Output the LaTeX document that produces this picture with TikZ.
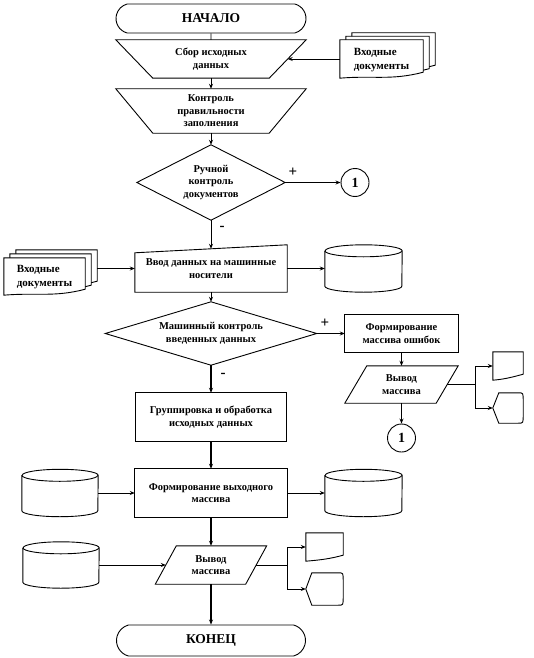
\documentclass[tikz,border=0pt]{standalone}
\usepackage{fontspec}
\setmainfont{Liberation Serif}
\usetikzlibrary{positioning,arrows.meta,shapes.misc,calc}
\newcommand\boxfont{\bfseries\fontsize{10.5}{12.5}\selectfont}
\tikzset{
  outline/.style={line width=0.9pt},
  flowarrow/.style={-{Stealth[length=5pt,width=4pt]}, line width=0.9pt},
  boldarrow/.style={flowarrow, line width=1.8pt},
  plainline/.style={line width=0.9pt},
  frame/.style={inner sep=0pt, align=center, font=\boxfont},
  doctext/.style={inner sep=0pt, align=left, font=\bfseries\fontsize{11}{14}\selectfont},
  termnode/.style={draw, rounded rectangle, rounded rectangle arc length=150, line width=0.9pt, inner sep=0pt, font=\bfseries\fontsize{13.5}{14}\selectfont},
  connnode/.style={draw, circle, line width=0.9pt, minimum size=28pt, inner sep=0pt, font=\bfseries\fontsize{14}{14}\selectfont},
  signnode/.style={inner sep=0pt, font=\bfseries\fontsize{15}{15}\selectfont}
}
% outlines drawn round empty frames
\newcommand\trapout[2]{\draw[outline] (#1.north west) -- (#1.north east) -- ([xshift=-#2]#1.south east) -- ([xshift=#2]#1.south west) -- cycle;}
\newcommand\diamondout[1]{\draw[outline] (#1.north) -- (#1.east) -- (#1.south) -- (#1.west) -- cycle;}
\newcommand\slantout[2]{\draw[outline] ([yshift=-#2]#1.north west) -- (#1.north east) -- (#1.south east) -- (#1.south west) -- cycle;}
\newcommand\paraout[2]{\draw[outline] ([xshift=#2]#1.north west) -- (#1.north east) -- ([xshift=-#2]#1.south east) -- (#1.south west) -- cycle;}
\newcommand\drumout[2]{%
  \draw[outline] ([yshift=-6]#1.north west) -- ([yshift=6]#1.south west)
    arc[start angle=180, end angle=360, x radius=#2, y radius=6]
    -- ([yshift=-6]#1.north east)
    arc[start angle=0, end angle=180, x radius=#2, y radius=6];
  \draw[outline] ([yshift=-6]#1.north west) arc[start angle=180, end angle=360, x radius=#2, y radius=6];}
\newcommand\docout[1]{\draw[outline, fill=white] (#1.north west) -- (#1.north east) -- ([yshift=6]#1.south east) to[out=195, in=5] (#1.south west) -- cycle;}
\newcommand\dispout[1]{\draw[outline] (#1.west) -- ([xshift=6]#1.north west) -- ([xshift=-5]#1.north east)
    .. controls (#1.north east) .. ([yshift=-8]#1.north east) -- ([yshift=8]#1.south east)
    .. controls (#1.south east) .. ([xshift=-5]#1.south east) -- ([xshift=6]#1.south west) -- cycle;}

\begin{document}
\begin{tikzpicture}[x=1pt, y=1pt]
  \useasboundingbox (0,0) rectangle (533,-658);

  % main column
  \node[termnode, minimum width=190pt, minimum height=29pt] (start) at (211,-18.5) {НАЧАЛО};
  \node[frame, minimum width=190pt, minimum height=38pt] (collect) at (211,-59) {Сбор исходных\\данных};
  \node[frame, minimum width=190pt, minimum height=44pt] (check) at (211,-111) {Контроль\\правильности\\заполнения};
  \node[frame, minimum width=148pt, minimum height=75pt] (manual) at (211,-182.5) {Ручной\\контроль\\документов};
  \node[frame, minimum width=152pt, minimum height=47pt] (entry) at (211,-268.5) {Ввод данных на машинные\\носители};
  \node[frame, minimum width=211pt, minimum height=63pt] (mcheck) at (211,-333.5) {Машинный контроль\\введенных данных};
  \node[frame, minimum width=151pt, minimum height=48pt] (group) at (211,-417) {Группировка и обработка\\исходных данных};
  \node[frame, minimum width=152pt, minimum height=48pt] (form) at (211,-493) {Формирование выходного\\массива};
  \node[frame, minimum width=111pt, minimum height=38pt] (out) at (211,-565) {Вывод\\массива};
  \node[termnode, minimum width=189pt, minimum height=31pt] (end) at (211,-640.5) {КОНЕЦ};

  % error branch
  \node[connnode] (conn1) at (355,-182.5) {1};
  \node[frame, minimum width=113pt, minimum height=38pt] (errors) at (401.5,-333.5) {Формирование\\массива ошибок};
  \node[frame, minimum width=113pt, minimum height=37pt] (errout) at (401.5,-384.5) {Вывод\\массива};
  \node[connnode] (conn2) at (401.5,-438) {1};

  % storage
  \node[frame, minimum width=77pt, minimum height=47pt] (disk1) at (363.5,-268.5) {};
  \node[frame, minimum width=76pt, minimum height=47pt] (disk2) at (60,-493) {};
  \node[frame, minimum width=77pt, minimum height=47pt] (disk3) at (363.5,-493) {};
  \node[frame, minimum width=76pt, minimum height=46pt] (disk4) at (61,-565) {};

  % output documents and displays
  \node[frame, minimum width=30pt, minimum height=28pt] (errdoc) at (508,-366) {};
  \node[frame, minimum width=30pt, minimum height=30pt] (errdisp) at (508,-408) {};
  \node[frame, minimum width=37pt, minimum height=28pt] (outdoc) at (324.5,-547) {};
  \node[frame, minimum width=37pt, minimum height=32pt] (outdisp) at (324.5,-589) {};

  % input document stacks
  \node[frame, minimum width=83pt, minimum height=38pt] (in1c) at (393.5,-52) {};
  \node[frame, minimum width=83pt, minimum height=38pt] (in1b) at (387.5,-55.5) {};
  \node[frame, minimum width=83pt, minimum height=38pt] (in1a) at (381.5,-59) {};
  \node[frame, minimum width=81pt, minimum height=37pt] (in2c) at (56.5,-268.5) {};
  \node[frame, minimum width=81pt, minimum height=37pt] (in2b) at (50.5,-272.5) {};
  \node[frame, minimum width=81pt, minimum height=37pt] (in2a) at (44.5,-276.5) {};

  \trapout{collect}{37}
  \trapout{check}{37}
  \diamondout{manual}
  \slantout{entry}{8}
  \diamondout{mcheck}
  \draw[outline] (group.north west) rectangle (group.south east);
  \draw[outline] (form.north west) rectangle (form.south east);
  \draw[outline] (errors.north west) rectangle (errors.south east);
  \paraout{errout}{22}
  \paraout{out}{21}
  \drumout{disk1}{38.5}
  \drumout{disk2}{38}
  \drumout{disk3}{38.5}
  \drumout{disk4}{38}
  \docout{errdoc}
  \docout{outdoc}
  \dispout{errdisp}
  \dispout{outdisp}
  \docout{in1c}
  \docout{in1b}
  \docout{in1a}
  \docout{in2c}
  \docout{in2b}
  \docout{in2a}
  \node[doctext] (in1text) at ([yshift=-1]in1a) {Входные\\документы};
  \node[doctext] (in2text) at ([yshift=-1]in2a) {Входные\\документы};

  % signs
  \node[signnode] (plus1) at (293,-172) {+};
  \node[signnode] (minus1) at (222,-228) {-};
  \node[signnode] (plus2) at (325,-323) {+};
  \node[signnode] (minus2) at (223,-375) {-};

  % connectors
  \draw[plainline] (start) -- (collect);
  \draw[flowarrow] (in1a.west) -- ([xshift=-18.5]collect.east);
  \draw[flowarrow] (collect) -- (check);
  \draw[flowarrow] (check) -- (manual);
  \draw[flowarrow] (manual.east) -- (conn1);
  \draw[flowarrow] (manual.south) -- ([yshift=-4]entry.north);
  \draw[boldarrow] (in2c.east) -- (entry.west);
  \draw[flowarrow] (entry.east) -- (disk1.west);
  \draw[flowarrow] (entry.south) -- (mcheck.north);
  \draw[flowarrow] (mcheck.east) -- (errors.west);
  \draw[boldarrow] (mcheck.south) -- (group.north);
  \draw[flowarrow] (errors) -- (errout);
  \draw[flowarrow] (errout) -- (conn2);
  \coordinate (fork1) at (475,-384.5);
  \draw[plainline] ([xshift=-11]errout.east) -- (fork1);
  \draw[flowarrow] (fork1) |- (errdoc.west);
  \draw[flowarrow] (fork1) |- (errdisp.west);
  \draw[boldarrow] (group) -- (form);
  \draw[flowarrow] (disk2.east) -- (form.west);
  \draw[flowarrow] (form.east) -- (disk3.west);
  \draw[boldarrow] (form) -- (out);
  \draw[flowarrow] (disk4.east) -- ([xshift=10.5]out.west);
  \coordinate (fork2) at (287,-565);
  \draw[plainline] ([xshift=-10.5]out.east) -- (fork2);
  \draw[flowarrow] (fork2) |- (outdoc.west);
  \draw[flowarrow] (fork2) |- (outdisp.west);
  \draw[boldarrow] (out) -- (end);
\end{tikzpicture}
\end{document}
